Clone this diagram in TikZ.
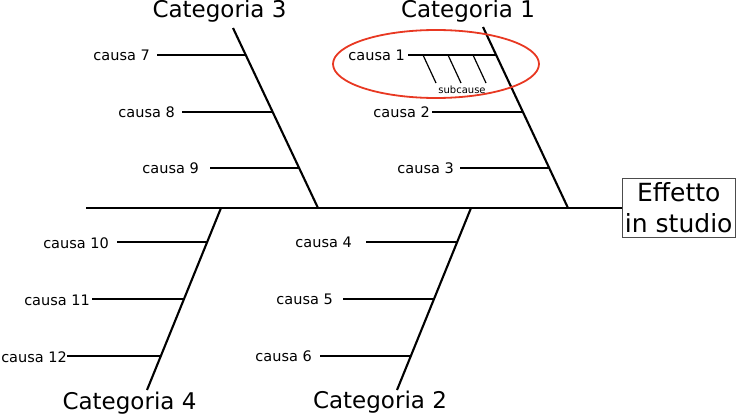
\documentclass[tikz,border=0pt]{standalone}
\usepackage{fontspec}
\setmainfont{DejaVu Sans}
\usetikzlibrary{positioning,calc}
\definecolor{ovalred}{RGB}{232,56,34}

\tikzset{
	cat/.style={font=\fontsize{23}{27}\selectfont,anchor=base,inner sep=0pt},
	cause/.style={font=\fontsize{14.5}{17}\selectfont,anchor=base east,inner sep=0pt},
	bone/.style={line width=2.1pt},
	twig/.style={line width=1.7pt},
	subline/.style={line width=1.2pt},
}

\begin{document}
\begin{tikzpicture}[x=1pt,y=-1pt]
	\useasboundingbox (0,0) rectangle (736,415);
	% effetto e spina
	\node[draw=black!70,line width=1pt,minimum width=113pt,minimum height=59pt,align=center,inner sep=0pt,font=\fontsize{25}{31}\selectfont] (eff) at (678.75,208) {Effetto\\in studio};
	\coordinate (tail) at (86,208);
	\draw[line width=2.6pt] (tail) -- (eff);
	% categorie
	\node[cat] (cat1) at (468,17) {Categoria 1};
	\node[cat] (cat3) at (219.5,17) {Categoria 3};
	\node[cat] (cat4) at (129.5,409) {Categoria 4};
	\node[cat] (cat2) at (380,408) {Categoria 2};
	\coordinate (t1) at (483,27);  \coordinate (b1) at (568,208);
	\coordinate (t3) at (233,28);  \coordinate (b3) at (318,208);
	\coordinate (t4) at (221,208); \coordinate (b4) at (147,390);
	\coordinate (t2) at (471,208); \coordinate (b2) at (397,390);
	\draw[bone] (t1) -- (b1);
	\draw[bone] (t3) -- (b3);
	\draw[bone] (t4) -- (b4);
	\draw[bone] (t2) -- (b2);
	% cause
	\node[cause] (c1) at (405,60) {causa 1};
	\node[cause] (c2) at (430,117) {causa 2};
	\node[cause] (c3) at (454,173) {causa 3};
	\node[cause] (c7) at (150,60) {causa 7};
	\node[cause] (c8) at (175,117) {causa 8};
	\node[cause] (c9) at (199,173) {causa 9};
	\node[cause] (c4) at (352,247.5) {causa 4};
	\node[cause] (c5) at (333,304.5) {causa 5};
	\node[cause] (c6) at (312,361.5) {causa 6};
	\node[cause] (c10) at (109,248) {causa 10};
	\node[cause] (c11) at (90,305) {causa 11};
	\node[cause] (c12) at (67,362) {causa 12};
	\coordinate (s1) at (408,55);  \coordinate (e1) at (496,55);
	\coordinate (s2) at (432,112); \coordinate (e2) at (523,112);
	\coordinate (s3) at (460,168); \coordinate (e3) at (549,168);
	\coordinate (s7) at (157,55);  \coordinate (e7) at (246,55);
	\coordinate (s8) at (182,112); \coordinate (e8) at (273,112);
	\coordinate (s9) at (210,168); \coordinate (e9) at (299,168);
	\coordinate (s4) at (366,242); \coordinate (e4) at (457,242);
	\coordinate (s5) at (343,299); \coordinate (e5) at (434,299);
	\coordinate (s6) at (320,356); \coordinate (e6) at (411,356);
	\coordinate (s10) at (117,242); \coordinate (e10) at (207,242);
	\coordinate (s11) at (92,299);  \coordinate (e11) at (184,299);
	\coordinate (s12) at (67,356);  \coordinate (e12) at (161,356);
	\foreach \i in {1,...,12}
		\draw[twig] (s\i) -- (e\i);
	% sottocause
	\foreach \i/\x in {1/423,2/448,3/473} {
		\coordinate (u\i) at (\x,55);
		\coordinate (v\i) at (\x+13,83);
		\draw[subline] (u\i) -- (v\i);
	}
	\node[font=\fontsize{10}{12}\selectfont,inner sep=0pt,anchor=base] (subc) at (462,93) {subcause};
	\draw[ovalred,line width=1.8pt] (436,64) ellipse [x radius=103pt, y radius=34pt];
\end{tikzpicture}
\end{document}
